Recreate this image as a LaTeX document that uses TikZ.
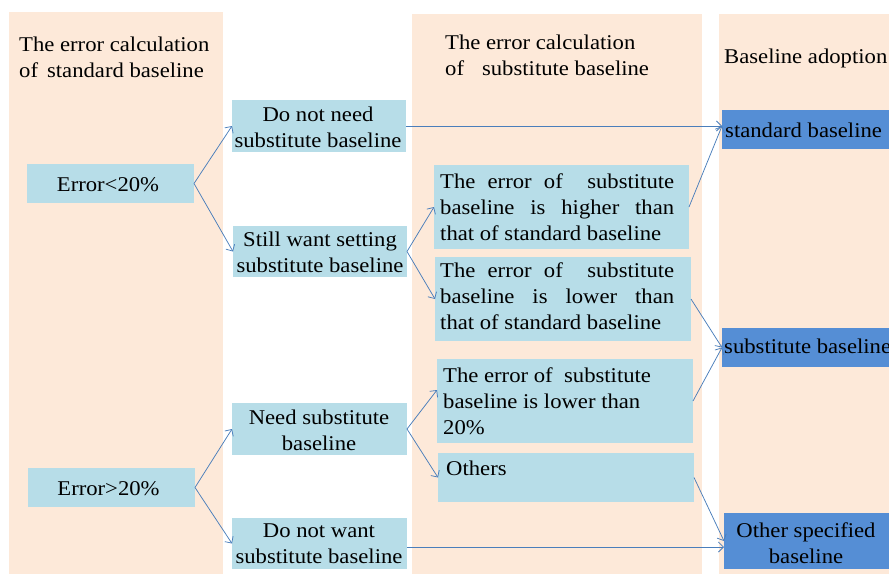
\documentclass[tikz,border=0pt]{standalone}
\usepackage{fontspec}
\setmainfont[FakeStretch=1.08]{Liberation Serif}
\usetikzlibrary{arrows.meta}
\definecolor{panelc}{HTML}{FDE9D9}
\definecolor{lbc}{HTML}{B7DDE8}
\definecolor{dbc}{HTML}{558ED5}
\definecolor{arrc}{HTML}{4A7EBB}
\newcommand{\jline}[1]{\makebox[234pt][s]{#1}}
\begin{document}
\begin{tikzpicture}[x=1pt,y=-1pt,
  panel/.style={fill=panelc},
  lbox/.style={fill=lbc, inner sep=0pt, outer sep=0pt},
  dbox/.style={fill=dbc, inner sep=0pt, outer sep=0pt},
  txt/.style={inner sep=0pt, font=\fontsize{21}{26}\selectfont},
  arr/.style={draw=arrc, line width=0.75pt, -{Straight Barb[length=5pt,width=10pt]}}]
\useasboundingbox (0,0) rectangle (889,574);
% panels
\fill[panel] (9,12) rectangle (223,574);
\fill[panel] (412,14) rectangle (702,574);
\fill[panel] (719,14) rectangle (889,574);
% headers (base anchor = last line)
\node[txt, anchor=base west, align=left] (h1) at (19,77) {The error calculation\\of\hspace{9pt}standard baseline};
\node[txt, anchor=base west, align=left] (h2) at (445,75) {The error calculation\\of\hspace{18pt}substitute baseline};
\node[txt, anchor=base west] (h3) at (724,63) {Baseline adoption};
% boxes
\node[lbox, minimum width=167, minimum height=39] (e1) at (110.5,183.5) {};
\node[lbox, minimum width=174, minimum height=52] (dnn) at (319,126) {};
\node[lbox, minimum width=174, minimum height=51] (sw) at (320,251.5) {};
\node[lbox, minimum width=255, minimum height=84] (hi) at (561.5,207) {};
\node[lbox, minimum width=256, minimum height=84] (lo) at (563,299) {};
\node[lbox, minimum width=256, minimum height=84] (l20) at (565,401) {};
\node[lbox, minimum width=256, minimum height=49] (oth) at (566,477.5) {};
\node[lbox, minimum width=167, minimum height=39] (e2) at (111.5,487.5) {};
\node[lbox, minimum width=175, minimum height=52] (ns) at (319.5,429) {};
\node[lbox, minimum width=175, minimum height=51] (dnw) at (319.5,543.5) {};
\node[dbox, minimum width=167, minimum height=39] (sb) at (805.5,129.5) {};
\node[dbox, minimum width=167, minimum height=39] (subb) at (805.5,347.5) {};
\node[dbox, minimum width=165, minimum height=56] (osb) at (806.5,541) {};
% texts
\node[txt, anchor=base] (e1t) at (108,191) {Error<20\%};
\node[txt, anchor=base, align=center] (dnnt) at (318,147) {Do not need\\substitute baseline};
\node[txt, anchor=base, align=center] (swt) at (320,272) {Still want setting\\substitute baseline};
\node[txt, anchor=base west, align=left] (hit) at (440,240) {\jline{The error of\ \ substitute}\\\jline{baseline is higher than}\\that of standard baseline};
\node[txt, anchor=base west, align=left] (lot) at (440,329) {\jline{The error of\ \ substitute}\\\jline{baseline is lower than}\\that of standard baseline};
\node[txt, anchor=base west, align=left] (l20t) at (443,434) {The error of\ \ substitute\\baseline is lower than\\20\%};
\node[txt, anchor=base west] (otht) at (446,475) {Others};
\node[txt, anchor=base] (e2t) at (108.5,495) {Error>20\%};
\node[txt, anchor=base, align=center] (nst) at (319,450) {Need substitute\\baseline};
\node[txt, anchor=base, align=center] (dnwt) at (319,563) {Do not want\\substitute baseline};
\node[txt, anchor=base west] (sbt) at (725,137) {standard baseline};
\node[txt, anchor=base west] (subbt) at (724,353) {substitute baseline};
\node[txt, anchor=base, align=center] (osbt) at (806,563) {Other specified\\baseline};
% connectors
\coordinate (sbin) at (sb.west |- dnn.east);
\coordinate (l20in) at ([yshift=11pt]l20.west);
\coordinate (dnwout) at ([yshift=-3.5pt]dnw.east);
\draw[arr] (e1.east) -- (dnn.west);
\draw[arr] (e1.east) -- (sw.west);
\draw[arr] (dnn.east) -- (sbin);
\draw[arr] (sw.east) -- (hi.west);
\draw[arr] (sw.east) -- (lo.west);
\draw[arr] (hi.east) -- (sbin);
\draw[arr] (lo.east) -- (subb.west);
\draw[arr] (l20.east) -- (subb.west);
\draw[arr] (e2.east) -- (ns.west);
\draw[arr] (e2.east) -- (dnw.west);
\draw[arr] (ns.east) -- (l20in);
\draw[arr] (ns.east) -- (oth.west);
\draw[arr] (oth.east) -- (osb.west);
\draw[arr] (dnwout) -- (dnwout -| osb.west);
\end{tikzpicture}
\end{document}
